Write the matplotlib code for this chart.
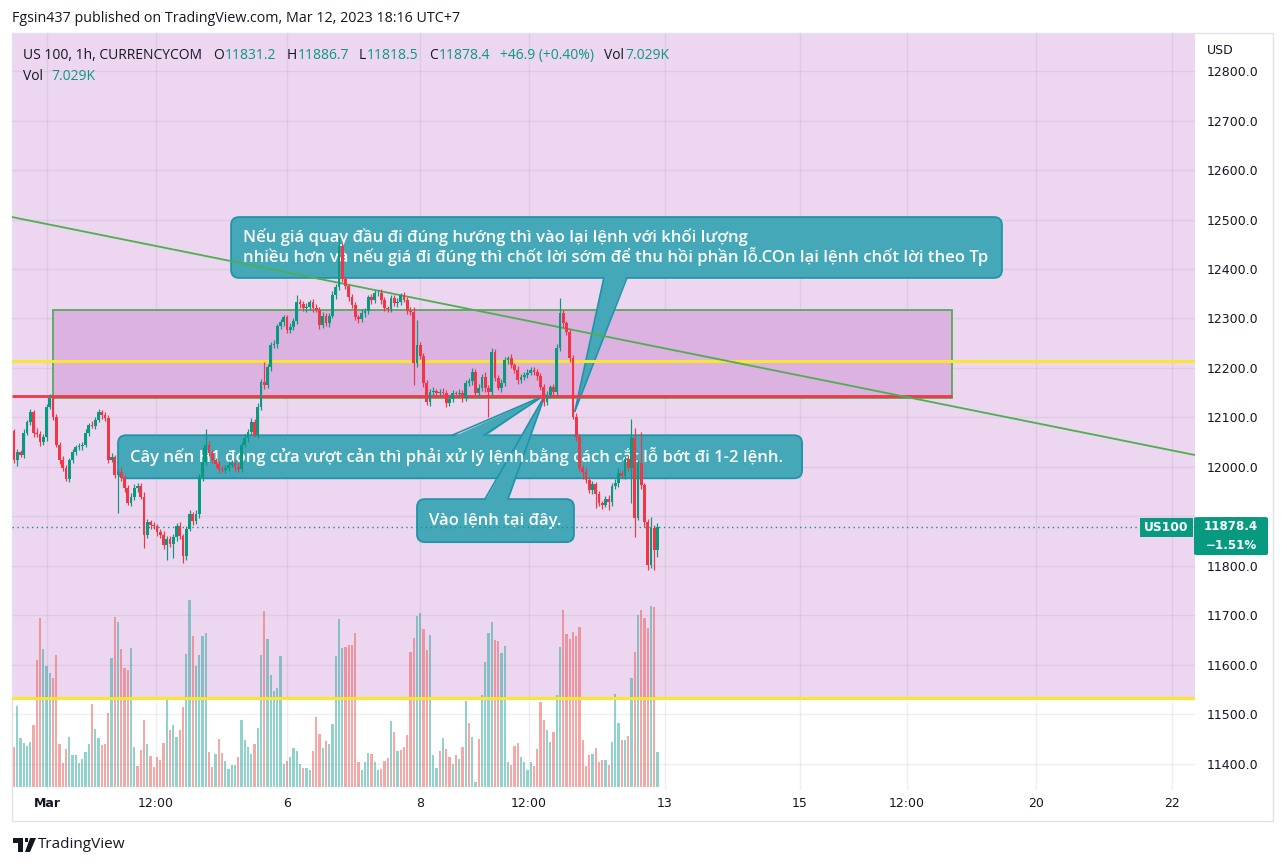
import matplotlib
matplotlib.use("Agg")
import matplotlib.pyplot as plt
from matplotlib.patches import Rectangle, FancyBboxPatch, Polygon
from matplotlib.transforms import blended_transform_factory, IdentityTransform, Bbox, TransformedBbox
from matplotlib.lines import Line2D

W, H = 1287, 866

# ---- candle data (US 100, 1h) ----
first_open = 12073
closes = [
    12014, 12030, 12025, 12069, 12091, 12111, 12069, 12066, 12051, 12060,
    12122, 12140, 12101, 12045, 12014, 11998, 11976, 12014, 12030, 12040,
    12042, 12045, 12069, 12085, 12083, 12095, 12111, 12105, 12098, 12014,
    12020, 11984, 11990, 11978, 11958, 11928, 11940, 11958, 11962, 11940,
    11863, 11888, 11882, 11880, 11868, 11862, 11843, 11855, 11845, 11858,
    11880, 11860, 11819, 11875, 11904, 11890, 11905, 11980, 12010, 12045,
    12028, 12014, 12005, 11996, 11994, 11998, 12004, 12008, 12000, 11996,
    12045, 12059, 12071, 12091, 12065, 12121, 12171, 12165, 12202, 12246,
    12248, 12284, 12292, 12302, 12276, 12283, 12295, 12333, 12330, 12321,
    12324, 12333, 12322, 12318, 12286, 12306, 12290, 12306, 12347, 12363,
    12447, 12380, 12365, 12343, 12327, 12303, 12298, 12312, 12315, 12343,
    12337, 12351, 12352, 12337, 12321, 12320, 12341, 12331, 12333, 12347,
    12338, 12316, 12314, 12210, 12246, 12225, 12169, 12131, 12151, 12153,
    12149, 12152, 12150, 12129, 12138, 12149, 12147, 12150, 12139, 12169,
    12174, 12192, 12149, 12160, 12182, 12160, 12152, 12232, 12180, 12160,
    12170, 12216, 12220, 12205, 12196, 12175, 12182, 12186, 12190, 12196,
    12192, 12183, 12161, 12131, 12145, 12161, 12151, 12240, 12312, 12290,
    12272, 12220, 12101, 12061, 11998, 11990, 11974, 11954, 11965, 11945,
    11927, 11923, 11935, 11929, 11962, 11968, 11988, 11982, 12016, 11998,
    12058, 11896, 12008, 11963, 11888, 11802, 11876, 11831.2, 11878.4,
]
upper_wick = [
    4, 6, 5, 8, 4, 6, 5, 9, 6, 7,
    5, 7, 4, 6, 5, 8, 5, 4, 6, 5,
    6, 5, 7, 4, 8, 5, 6, 5, 7, 6,
    8, 5, 6, 9, 5, 6, 7, 8, 5, 6,
    9, 6, 5, 7, 5, 6, 8, 6, 5, 7,
    6, 8, 5, 6, 9, 5, 7, 6, 30, 31,
    8, 6, 5, 7, 5, 6, 8, 5, 6, 7,
    5, 7, 6, 8, 5, 9, 6, 41, 6, 7,
    8, 5, 7, 6, 5, 7, 6, 14, 6, 5,
    7, 5, 6, 8, 5, 7, 6, 5, 8, 6,
    17, 8, 6, 5, 7, 6, 5, 8, 6, 5,
    6, 7, 5, 8, 6, 5, 7, 6, 8, 5,
    6, 5, 7, 9, 50, 6, 5, 7, 6, 8,
    5, 6, 8, 5, 7, 6, 5, 8, 6, 7,
    6, 8, 5, 7, 6, 9, 5, 8, 6, 5,
    7, 6, 5, 8, 6, 7, 5, 6, 8, 5,
    6, 5, 7, 6, 8, 5, 6, 9, 29, 6,
    5, 7, 6, 8, 5, 6, 7, 5, 6, 5,
    7, 5, 6, 8, 5, 7, 10, 5, 6, 8,
    39, 20, 6, 62, 5, 6, 23, 6, 8.3,
]
lower_wick = [
    6, 12, 5, 7, 4, 6, 8, 5, 9, 6,
    7, 5, 6, 4, 8, 6, 5, 7, 6, 5,
    6, 8, 5, 7, 5, 6, 4, 8, 6, 7,
    5, 7, 77, 6, 8, 5, 7, 6, 8, 5,
    26, 6, 7, 5, 8, 6, 9, 31, 6, 29,
    7, 6, 14, 8, 5, 7, 6, 8, 9, 6,
    5, 7, 6, 8, 5, 7, 6, 5, 8, 6,
    7, 5, 8, 6, 5, 6, 6, 7, 5, 8,
    6, 7, 5, 8, 6, 5, 7, 6, 8, 5,
    7, 6, 8, 5, 7, 6, 5, 8, 6, 7,
    5, 7, 6, 8, 5, 6, 7, 5, 8, 6,
    7, 5, 6, 8, 5, 7, 6, 5, 8, 6,
    5, 7, 6, 45, 8, 6, 7, 5, 8, 6,
    7, 6, 5, 8, 6, 7, 5, 6, 8, 5,
    6, 8, 5, 7, 6, 9, 52, 6, 7, 5,
    8, 6, 7, 5, 6, 8, 5, 7, 6, 5,
    6, 7, 5, 8, 6, 5, 7, 6, 5, 8,
    6, 7, 5, 8, 6, 15, 7, 6, 8, 28,
    6, 8, 5, 16, 7, 6, 8, 5, 6, 7,
    71, 38, 3, 8, 10, 10, 6, 39, 12.7,
]
# volume in thousands, and its colour (u = up bar, d = down bar)
volume_k = [
    8.0, 16.2, 9.8, 8.8, 8.2, 9.0, 12.4, 25.6, 34.0, 27.8,
    24.2, 22.8, 21.8, 26.6, 8.6, 4.8, 7.6, 10.0, 6.4, 6.4,
    4.8, 5.6, 7.0, 8.6, 16.6, 11.6, 9.8, 8.4, 8.6, 14.8,
    26.0, 34.2, 33.2, 27.8, 23.8, 23.4, 28.0, 8.0, 4.2, 7.4,
    13.4, 8.6, 6.2, 4.0, 6.0, 5.4, 8.8, 17.6, 11.4, 12.4,
    10.0, 11.4, 16.0, 26.8, 37.6, 30.4, 24.2, 26.6, 30.4, 31.0,
    7.0, 4.0, 6.6, 9.6, 6.8, 5.2, 3.6, 4.4, 4.4, 6.0,
    13.4, 9.4, 8.0, 6.6, 8.6, 11.8, 26.6, 35.4, 29.8, 22.4,
    19.2, 19.8, 26.4, 4.6, 5.2, 6.0, 7.8, 7.2, 4.6, 3.8,
    3.8, 3.4, 7.2, 14.0, 10.6, 7.8, 9.2, 8.6, 12.6, 26.4,
    33.8, 28.0, 28.2, 28.6, 28.6, 31.0, 5.0, 3.4, 5.0, 6.8,
    6.6, 5.0, 3.4, 3.6, 5.2, 5.8, 13.2, 11.0, 7.2, 7.4,
    8.0, 10.4, 27.2, 30.0, 34.4, 35.0, 31.8, 27.6, 30.6, 6.4,
    3.8, 7.2, 9.8, 7.6, 6.0, 4.6, 6.4, 5.6, 8.0, 17.2,
    12.8, 10.0, 1.0, 9.6, 18.4, 25.2, 31.0, 33.2, 29.6, 29.4,
    27.0, 28.4, 5.0, 4.4, 8.2, 8.8, 6.0, 5.0, 3.4, 5.0,
    4.2, 7.6, 17.0, 13.4, 11.4, 9.0, 11.0, 18.4, 28.2, 35.6,
    30.8, 29.8, 31.2, 30.4, 32.2, 9.4, 4.2, 6.4, 6.6, 7.8,
    5.0, 5.4, 5.4, 4.4, 9.0, 18.6, 12.8, 9.4, 9.4, 10.2,
    21.8, 27.2, 34.6, 35.6, 34.0, 32.0, 36.4, 36.2, 7.029,
]
volume_dir = (
    "duuuuudddu" "uuddddduuu" "uuuuduuddd" "ududdduudd" "dudddddudu"
    "udduuduuuu" "ddudduuuud" "uuuuduuduu" "uuuuduuuud" "uuddduduuu"
    "uuddddduuu" "duudddudud" "dddduudduu" "ududdududu" "duuduuuudd"
    "uuuddduuuu" "dddduuduud" "ddddddddud" "dduduuudud" "ududddudu"
)

price_ticks = list(range(11400, 12801, 100))
time_labels = ["Mar", "12:00", "6", "8", "12:00", "13", "15", "12:00", "20", "22"]
time_ticks = [10.15, 43.7, 84.0, 124.9, 158.5, 200.3, 241.8, 274.8, 314.5, 356.3]

# ---- drawings on the chart ----
zone_top, zone_bottom = 12317, 12139
support_level = 12143
yellow_levels = [12215, 11533]
trend_start = (-0.6, 12505)
trend_end = (363.4, 12024)

callout_1 = ("Nếu giá quay đầu đi đúng hướng thì vào lại lệnh với khối lượng\n"
             "nhiều hơn và nếu giá đi đúng thì chốt lời sớm để thu hồi phần lỗ.COn lại lệnh chốt lời theo Tp")
callout_2 = "Cây nến H1 đóng cửa vượt cản thì phải xử lý lệnh.bằng cách cắt lỗ bớt đi 1-2 lệnh."
callout_3 = "Vào lệnh tại đây."

UP, DOWN = "#089981", "#f23645"
DARK = "#131722"
CALLOUT_FILL, CALLOUT_EDGE = "#44a8b9", "#1f94a8"

opens = [first_open] + closes[:-1]
n = len(closes)
idx = list(range(n))
highs = [max(o, c) + u for o, c, u in zip(opens, closes, upper_wick)]
lows = [min(o, c) - d for o, c, d in zip(opens, closes, lower_wick)]


def fig_xy(x, y):
    return x / W, 1 - y / H


fig = plt.figure(figsize=(W / 100, H / 100), dpi=100)
fig.patch.set_facecolor("white")
pane = [12 / W, 1 - 790 / H, 1183 / W, 757 / H]

ax = fig.add_axes(pane)
axv = fig.add_axes(pane)
axv.set_zorder(1)
ax.set_zorder(2)
ax.patch.set_visible(False)
axv.set_facecolor("white")

ax.set_xlim(-0.62, 363.4)
ax.set_ylim(11347, 12877)
axv.set_xlim(-0.62, 363.4)
axv.set_ylim(-0.6, 151.4)

for a in (ax, axv):
    for s in a.spines.values():
        s.set_visible(False)
axv.set_xticks([])
axv.set_yticks([])

# purple background drawing (bottom edge is the lower yellow line)
bg_tr = blended_transform_factory(axv.transAxes, ax.transData)
axv.add_patch(Rectangle((0, yellow_levels[1]), 1, 12877 - yellow_levels[1],
                        transform=bg_tr, fc="#ecd6f0", ec="none", zorder=0))

# volume
vol_colors = ["#26a69a" if d == "u" else "#ef5350" for d in volume_dir]
axv.bar(idx, volume_k, width=0.65, color=vol_colors, alpha=0.5, linewidth=0, zorder=2)

# grid
for p in price_ticks:
    ax.axhline(p, color="#8a7d99", alpha=0.13, lw=1, zorder=0.5)
for t in time_ticks:
    ax.axvline(t, color="#8a7d99", alpha=0.13, lw=1, zorder=0.5)

# zone rectangle
ax.add_patch(Rectangle((12.0, zone_bottom), 288.6 - 12.0, zone_top - zone_bottom,
                       fc="#dbb2e0", ec="#5aa75d", lw=1.3, zorder=1))
ax.hlines(support_level, -0.62, 288.6, color=DOWN, lw=2.0, zorder=3)
for lvl in yellow_levels:
    ax.axhline(lvl, color="#fbe533", lw=2.2, zorder=3)
ax.add_line(Line2D([trend_start[0], trend_end[0]], [trend_start[1], trend_end[1]],
                   color="#4caf50", lw=1.3, zorder=3.5))


def draw_callout(box, base, tip, text):
    left, top, right, bottom = box
    x0, y0 = ax.transData.transform((left, bottom))
    x1, y1 = ax.transData.transform((right, top))
    ax.add_artist(FancyBboxPatch((x0, y0), x1 - x0, y1 - y0,
                                 boxstyle="round,pad=0,rounding_size=8",
                                 fc=CALLOUT_FILL, ec=CALLOUT_EDGE, lw=1.3,
                                 transform=IdentityTransform(), zorder=2))
    tx, ty = ax.transData.transform(tip)
    edge_y = y1 if ty > y1 else y0
    inset = -2 if ty > y1 else 2
    bx0 = ax.transData.transform((base[0], top))[0]
    bx1 = ax.transData.transform((base[1], top))[0]
    ax.add_artist(Polygon([(bx0, edge_y + inset), (bx1, edge_y + inset), (tx, ty)],
                          closed=True, fc=CALLOUT_FILL, ec="none",
                          transform=IdentityTransform(), zorder=2.2))
    for bx in (bx0, bx1):
        ax.add_artist(Line2D([bx, tx], [edge_y, ty], color=CALLOUT_EDGE, lw=1.2,
                             transform=IdentityTransform(), zorder=2.3))
    ax.text(x0 + 12, (y0 + y1) / 2, text, transform=IdentityTransform(),
            ha="left", va="center", color="white", fontsize=12,
            family="Open Sans", weight="semibold", linespacing=1.1, zorder=2.5)


draw_callout((66.8, 12505, 304.0, 12382), (181.5, 188.6), (172.6, 12113), callout_1)
draw_callout((32.0, 12064, 242.5, 11977), (134.8, 144.6), (162.8, 12143), callout_2)
draw_callout((124.0, 11935, 172.3, 11848), (144.9, 152.0), (163.4, 12145), callout_3)

# candles
colors = [UP if c >= o else DOWN for o, c in zip(opens, closes)]
ax.vlines(idx, lows, highs, colors=colors, lw=0.85, zorder=5)
bodies = [max(abs(c - o), 1.5) for o, c in zip(opens, closes)]
ax.bar(idx, bodies, bottom=[min(o, c) for o, c in zip(opens, closes)],
       width=0.8, color=colors, linewidth=0, zorder=6)

# last price line
last = closes[-1]
ax.axhline(last, color=UP, lw=1, ls=(0, (1, 2.5)), zorder=7)

# axes ticks
ax.yaxis.tick_right()
ax.set_yticks(price_ticks)
ax.set_yticklabels([f"{p:.1f}" for p in price_ticks])
ax.tick_params(axis="y", length=0, pad=8.6, labelsize=9, labelcolor=DARK)
ax.set_xticks(time_ticks)
ax.set_xticklabels(time_labels)
ax.tick_params(axis="x", length=0, pad=5, labelsize=9, labelcolor=DARK)
ax.get_xticklabels()[0].set_fontweight("bold")

# price labels on the right
last_y = H - ax.transData.transform((0, last))[1]
box_top = last_y - 10
fig.patches.append(Rectangle(fig_xy(1140, last_y + 10), 53 / W, 19 / H,
                             transform=fig.transFigure, fc=UP, ec="none", zorder=8))
fig.patches.append(FancyBboxPatch(fig_xy(1194, last_y + 28), 74 / W, 38 / H,
                                  boxstyle="round,pad=0,rounding_size=0.002",
                                  transform=fig.transFigure, fc=UP, ec="none", zorder=8))
fig.text(*fig_xy(1166, last_y + 0.5), "US100", color="white", fontsize=8.8,
         weight="bold", ha="center", va="center", zorder=9)
fig.text(*fig_xy(1231, last_y - 1), f"{last:.1f}", color="white", fontsize=8.6,
         weight="bold", ha="center", va="center", zorder=9)
fig.text(*fig_xy(1231, last_y + 18), "\u22121.51%", color="white", fontsize=8.6,
         weight="bold", ha="center", va="center", zorder=9)
fig.text(*fig_xy(1207, 50), "USD", color=DARK, fontsize=9, ha="left", va="center")

# the price scale label that sits under the last-price box shows only above it
clip = TransformedBbox(Bbox([[1195, 0], [W, H - box_top]]), IdentityTransform())
for lab, p in zip(ax.get_yticklabels(), price_ticks):
    if abs(p - last) < 40:
        lab.set_clip_on(True)
        lab.set_clip_box(clip)

# frame around the chart widget
fig.patches.append(Rectangle(fig_xy(12, 821), (1273 - 12) / W, (821 - 33) / H,
                             transform=fig.transFigure, fill=False, ec="#e0e3eb", lw=1))

# header
fig.text(*fig_xy(12, 19), "Fgsin437 published on TradingView.com, Mar 12, 2023 18:16 UTC+7",
         color=DARK, fontsize=10.3, family="Open Sans", ha="left", va="center")


def chain(parts, x, y):
    prev = None
    for text, color, gap in parts:
        if prev is None:
            prev = fig.text(*fig_xy(x, y), text, color=color, fontsize=10,
                            family="Open Sans", ha="left", va="bottom")
        else:
            prev = ax.annotate(text, xy=(1, 0), xycoords=prev, xytext=(gap, 0),
                               textcoords="offset pixels", color=color, fontsize=10,
                               family="Open Sans", ha="left", va="bottom",
                               annotation_clip=False)


chain([("US 100, 1h, CURRENCYCOM", DARK, 0),
       ("O", DARK, 11), (f"{opens[-1]:.1f}", UP, 1),
       ("H", DARK, 10), (f"{highs[-1]:.1f}", UP, 1),
       ("L", DARK, 10), (f"{lows[-1]:.1f}", UP, 1),
       ("C", DARK, 10), (f"{closes[-1]:.1f}", UP, 1),
       ("+46.9 (+0.40%)", UP, 10),
       ("Vol", DARK, 10), (f"{volume_k[-1]:.3f}K", UP, 1)], 23, 63)
chain([("Vol", DARK, 0), (f"{volume_k[-1]:.3f}K", UP, 8)], 23, 84)

# TradingView footer
fig.patches.append(Polygon([fig_xy(13, 838), fig_xy(23, 838), fig_xy(23, 852),
                            fig_xy(18, 852), fig_xy(18, 843), fig_xy(13, 843)],
                           closed=True, transform=fig.transFigure, fc=DARK, ec="none"))
fig.patches.append(Polygon([fig_xy(24.5, 838), fig_xy(28, 838), fig_xy(28, 842), fig_xy(24.5, 842)],
                           closed=True, transform=fig.transFigure, fc=DARK, ec="none"))
fig.patches.append(Polygon([fig_xy(30, 838), fig_xy(36, 838), fig_xy(30, 852), fig_xy(25, 852)],
                           closed=True, transform=fig.transFigure, fc=DARK, ec="none"))
fig.text(*fig_xy(38, 845), "TradingView", color=DARK, fontsize=11,
         family="Open Sans", ha="left", va="center")

fig.savefig("out.png", dpi=100)
